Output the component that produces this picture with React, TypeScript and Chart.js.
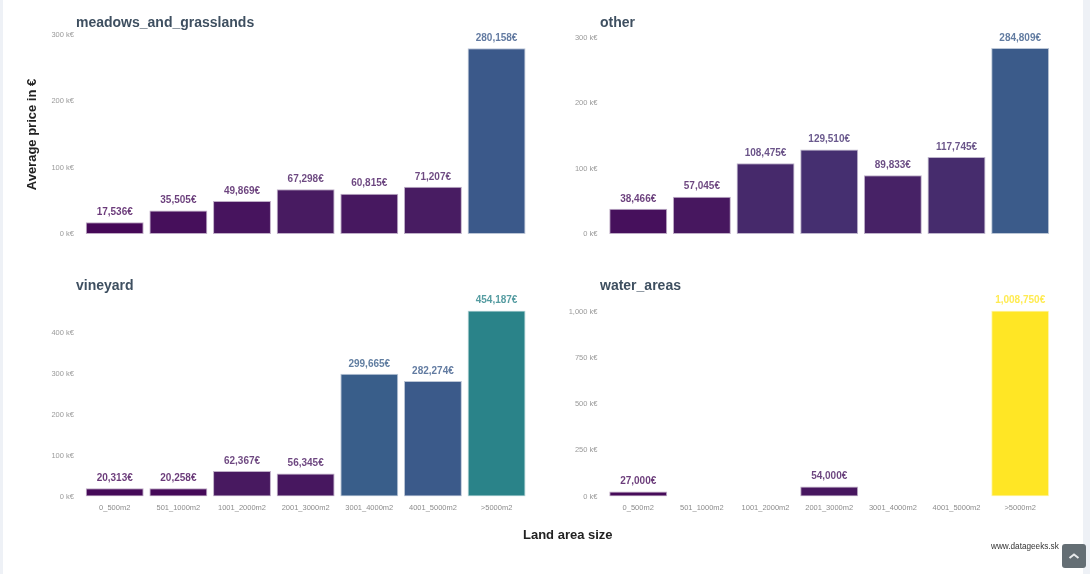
import React, { useEffect, useRef } from "react";
import { Chart, registerables } from "chart.js";

Chart.register(...registerables);

const landSizes = ["0_500m2", "501_1000m2", "1001_2000m2", "2001_3000m2", "3001_4000m2", "4001_5000m2", ">5000m2"];

const meadows = [17536, 35505, 49869, 67298, 60815, 71207, 280158];
const other = [38466, 57045, 108475, 129510, 89833, 117745, 284809];
const vineyard = [20313, 20258, 62367, 56345, 299665, 282274, 454187];
const waterAreas = [27000, null, null, 54000, null, null, 1008750];

const ticksTo300k = [0, 100000, 200000, 300000];
const ticksTo400k = [0, 100000, 200000, 300000, 400000];
const ticksTo1000k = [0, 250000, 500000, 750000, 1000000];

const colourAnchors: [number, number[]][] = [
  [0, [68, 1, 84]],
  [0.07, [72, 28, 98]],
  [0.13, [69, 48, 112]],
  [0.28, [59, 90, 138]],
  [0.45, [42, 131, 137]],
  [1, [255, 230, 37]],
];

function colourFor(value: number, alpha = 1) {
  const t = value / 1008750;
  for (let i = 1; i < colourAnchors.length; i++) {
    const [t1, c1] = colourAnchors[i];
    const [t0, c0] = colourAnchors[i - 1];
    if (t <= t1) {
      const f = (t - t0) / (t1 - t0);
      const c = c0.map((v, k) => Math.round(v + (c1[k] - v) * f));
      return `rgba(${c[0]},${c[1]},${c[2]},${alpha})`;
    }
  }
  return `rgba(255,230,37,${alpha})`;
}

const valueLabels = {
  id: "valueLabels",
  afterDatasetsDraw(chart: any) {
    const { ctx } = chart;
    const meta = chart.getDatasetMeta(0);
    ctx.save();
    ctx.font = "bold 10px 'Liberation Sans'";
    ctx.textAlign = "center";
    ctx.textBaseline = "bottom";
    meta.data.forEach((bar: any, i: number) => {
      const v = chart.data.datasets[0].data[i];
      if (v == null) return;
      ctx.fillStyle = colourFor(v, 0.8);
      ctx.fillText(v.toLocaleString("en-US") + "€", bar.x, bar.y - 5);
    });
    ctx.restore();
  },
};

type PanelProps = {
  title: string;
  values: (number | null)[];
  left: number;
  top: number;
  width: number;
  height: number;
  areaLeft: number;
  areaTop: number;
  areaBottom: number;
  areaRight: number;
  yMax: number;
  yTicks: number[];
  showX: boolean;
  yTitle?: string;
  titleX: number;
  titleY: number;
};

function Panel(p: PanelProps) {
  const ref = useRef<HTMLCanvasElement>(null);
  useEffect(() => {
    const chart = new Chart(ref.current!, {
      type: "bar",
      data: {
        labels: landSizes,
        datasets: [
          {
            data: p.values,
            backgroundColor: p.values.map((v) => (v == null ? "transparent" : colourFor(v))),
            borderColor: p.values.map((v) => (v == null ? "transparent" : colourFor(v, 0.35))),
            borderWidth: 1,
            borderSkipped: false,
            barPercentage: 0.91,
            categoryPercentage: 1,
          },
        ],
      },
      options: {
        responsive: false,
        animation: false,
        events: [],
        layout: {
          padding: {
            top: p.areaTop - p.top,
            bottom: p.top + p.height - p.areaBottom - (p.showX ? 24 : 0),
            left: 0,
            right: p.left + p.width - p.areaRight,
          },
        },
        plugins: { legend: { display: false }, tooltip: { enabled: false }, title: { display: false } },
        scales: {
          x: {
            grid: { display: false, drawTicks: false },
            border: { display: false },
            afterFit: (s: any) => {
              s.height = p.showX ? 24 : 0;
            },
            ticks: {
              display: p.showX,
              color: "#8c8c8c",
              font: { family: "'Liberation Sans'", size: 7.5 },
              padding: 7,
              maxRotation: 0,
              autoSkip: false,
            },
          },
          y: {
            min: 0,
            max: p.yMax,
            grid: { display: false, drawTicks: false },
            border: { display: false },
            afterFit: (s: any) => {
              s.width = p.areaLeft - p.left;
            },
            afterBuildTicks: (s: any) => {
              s.ticks = p.yTicks.map((value) => ({ value }));
            },
            title: p.yTitle
              ? {
                  display: true,
                  text: p.yTitle,
                  color: "#222222",
                  font: { family: "'Liberation Sans'", size: 13, weight: "bold" },
                  padding: { top: 21, bottom: 0 },
                }
              : { display: false },
            ticks: {
              color: "#9a9a9a",
              font: { family: "'Liberation Sans'", size: 7.5 },
              padding: 9,
              autoSkip: false,
              callback: (v: any) => `${(Number(v) / 1000).toLocaleString("en-US")} k€`,
            },
          },
        },
      },
      plugins: [valueLabels],
    } as any);
    return () => chart.destroy();
  }, []);
  return (
    <>
      <canvas
        ref={ref}
        width={p.width}
        height={p.height}
        style={{ position: "absolute", left: p.left, top: p.top, width: p.width, height: p.height, filter: "blur(0.5px)" }}
      />
      <div
        style={{
          position: "absolute",
          left: p.titleX,
          top: p.titleY,
          font: "bold 14px 'Liberation Sans'",
          color: "#3e4f60",
          whiteSpace: "nowrap",
          filter: "blur(0.4px)",
        }}
      >
        {p.title}
      </div>
    </>
  );
}

export default function App() {
  return (
    <div style={{ position: "fixed", inset: 0, background: "#ffffff", overflow: "hidden" }}>
      <div style={{ position: "absolute", left: 0, top: 0, bottom: 0, width: 3, background: "#eef1f6" }} />
      <div style={{ position: "absolute", right: 0, top: 0, bottom: 0, width: 7, background: "#eef1f6" }} />
      <Panel title="meadows_and_grasslands" values={meadows} left={4} top={0} width={536} height={262}
        areaLeft={82.9} areaRight={528.4} areaTop={35} areaBottom={234} yMax={300000} yTicks={ticksTo300k} showX={false}
        yTitle="Average price in €" titleX={76} titleY={14} />
      <Panel title="other" values={other} left={545} top={0} width={530} height={262}
        areaLeft={606.4} areaRight={1052} areaTop={38} areaBottom={234} yMax={300000} yTicks={ticksTo300k} showX={false}
        titleX={600} titleY={14} />
      <Panel title="vineyard" values={vineyard} left={4} top={270} width={536} height={250}
        areaLeft={82.9} areaRight={528.4} areaTop={310.5} areaBottom={496.5} yMax={454187} yTicks={ticksTo400k} showX={true}
        titleX={76} titleY={277} />
      <Panel title="water_areas" values={waterAreas} left={545} top={270} width={530} height={250}
        areaLeft={606.4} areaRight={1052} areaTop={310.5} areaBottom={496.5} yMax={1008750} yTicks={ticksTo1000k} showX={true}
        titleX={600} titleY={277} />
      <div style={{ position: "absolute", left: 523, top: 527, font: "bold 13px 'Liberation Sans'", color: "#222222", filter: "blur(0.4px)" }}>
        Land area size
      </div>
      <div style={{ position: "absolute", left: 991, top: 542, font: "8.2px 'Liberation Sans'", color: "#333333", filter: "blur(0.3px)" }}>
        www.datageeks.sk
      </div>
      <div
        style={{
          position: "absolute",
          left: 1062,
          top: 544,
          width: 24,
          height: 24,
          borderRadius: 3,
          background: "#646e74",
        }}
      >
        <svg width="24" height="24" viewBox="0 0 24 24" style={{ display: "block" }}>
          <path d="M7.5 14 L12 10.5 L16.5 14" fill="none" stroke="#e8eaec" strokeWidth="2" />
        </svg>
      </div>
    </div>
  );
}
